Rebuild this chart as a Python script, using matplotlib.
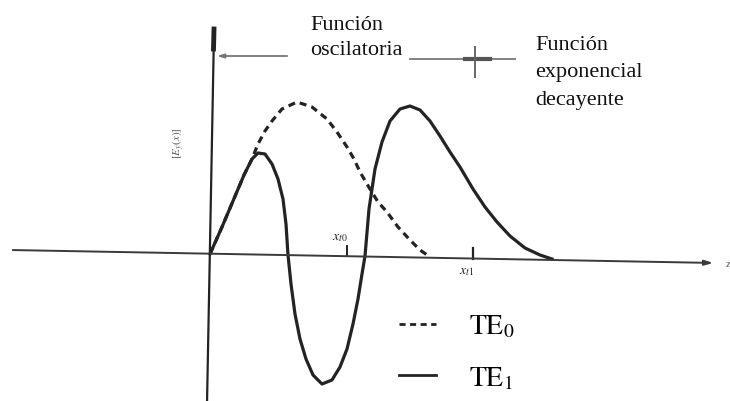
import matplotlib
matplotlib.use('Agg')
import matplotlib.pyplot as plt
from matplotlib.lines import Line2D

plt.rcParams['font.family'] = ['Liberation Serif', 'DejaVu Serif']
plt.rcParams['mathtext.fontset'] = 'stix'

# perfil del campo E_y(x): modo TE1 (continuo)
x_te1 = [0, 0.12, 0.23, 0.34, 0.42, 0.48, 0.55, 0.62, 0.68, 0.73, 0.76, 0.78,
         0.81, 0.85, 0.90, 0.96, 1.03, 1.12, 1.22, 1.30, 1.37, 1.43, 1.48, 1.52,
         1.55, 1.59, 1.65, 1.72, 1.80, 1.90, 2.00, 2.10, 2.20, 2.30, 2.40, 2.50,
         2.63, 2.75, 2.87, 3.00, 3.15, 3.30, 3.42]
y_te1 = [0, 0.27, 0.53, 0.79, 0.95, 1.01, 1.00, 0.90, 0.75, 0.55, 0.30, -0.01,
         -0.30, -0.60, -0.85, -1.05, -1.21, -1.30, -1.26, -1.13, -0.95, -0.70, -0.45, -0.20,
         -0.02, 0.45, 0.85, 1.12, 1.33, 1.45, 1.48, 1.44, 1.33, 1.18, 1.02, 0.87,
         0.65, 0.47, 0.32, 0.18, 0.06, -0.01, -0.05]

# modo TE0 (discontinuo)
x_te0 = [0, 0.12, 0.23, 0.34, 0.42, 0.48, 0.55, 0.62, 0.72, 0.87, 1.02, 1.17,
         1.27, 1.37, 1.44, 1.50, 1.60, 1.68, 1.77, 1.88, 2.00, 2.10, 2.20]
y_te0 = [0, 0.27, 0.53, 0.79, 0.95, 1.10, 1.23, 1.33, 1.45, 1.52, 1.47, 1.35,
         1.22, 1.07, 0.95, 0.82, 0.65, 0.52, 0.42, 0.27, 0.14, 0.04, -0.03]

# puntos de corte
x_t0 = 1.37
x_t1 = 2.63

fig = plt.figure(figsize=(7.30, 4.02), dpi=100)
ax = fig.add_axes([0, 0, 1, 1])
ax.set_xlim(-2.10, 5.20)
ax.set_ylim(-1.47, 2.55)
ax.axis('off')

c = '#232323'

# ejes
ax.annotate('', xy=(5.06, -0.09), xytext=(-2.0, 0.04),
            arrowprops=dict(arrowstyle='-|>,head_length=0.5,head_width=0.15',
                            color='#3a3a3a', lw=1.4))
ax.plot([-0.03, 0.04], [-1.5, 2.22], color=c, lw=1.6, solid_capstyle='butt')
ax.plot([0.035, 0.04], [2.05, 2.25], color=c, lw=3.5)

# curvas
ax.plot(x_te1, y_te1, color=c, lw=2.3, solid_joinstyle='round')
ax.plot(x_te0, y_te0, color=c, lw=2.3, ls=(0, (2.2, 1.6)))

# marcas x_t0 y x_t1
ax.plot([x_t0, x_t0], [-0.02, 0.08], color=c, lw=1.4)
ax.plot([x_t1, x_t1], [-0.05, 0.06], color=c, lw=1.6)
ax.text(x_t0 - 0.07, 0.17, r'$x_{t0}$', fontsize=10, ha='center', va='center', color=c)
ax.text(x_t1 - 0.06, -0.17, r'$x_{t1}$', fontsize=10, ha='center', va='center', color=c)
ax.text(5.18, -0.10, 'z', fontsize=8, ha='center', va='center', color='#555555')

# eje vertical
ax.text(-0.31, 1.12, r'$[E_y(x)]$', fontsize=8, rotation=90, ha='center', va='center',
        color='#555555')

# regiones
g = '#777777'
ax.annotate('', xy=(0.04, 1.98), xytext=(0.80, 1.98),
            arrowprops=dict(arrowstyle='-|>,head_length=0.4,head_width=0.12',
                            color=g, lw=1.3))
ax.plot([2.0, 3.05], [1.95, 1.95], color=g, lw=1.3)
ax.plot([2.55, 2.80], [1.95, 1.95], color='#555555', lw=3)
ax.plot([x_t1 + 0.02, x_t1 + 0.02], [1.77, 2.07], color='#666666', lw=1.4)
ax.text(1.0, 2.17, 'Función\noscilatoria', fontsize=16, ha='left', va='center',
        linespacing=1.48, color='#111111')
ax.text(3.25, 1.82, 'Función\nexponencial\ndecayente', fontsize=16, ha='left',
        va='center', linespacing=1.62, color='#111111')

# leyenda
handles = [Line2D([], [], color=c, lw=2.0, ls=(0, (2.2, 1.6))),
           Line2D([], [], color=c, lw=2.0)]
ax.legend(handles, [r'$\mathrm{TE}_0$', r'$\mathrm{TE}_1$'], frameon=False,
          fontsize=20, loc='center left', bbox_to_anchor=(0.512, 0.122),
          handlelength=1.33, handletextpad=1.2, labelspacing=0.9)

fig.savefig('out.png', dpi=100)
